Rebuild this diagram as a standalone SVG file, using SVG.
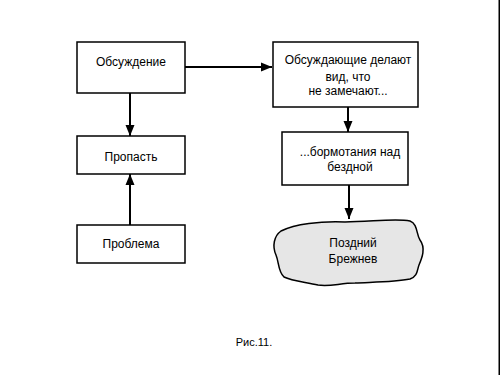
<svg xmlns="http://www.w3.org/2000/svg" width="500" height="375" viewBox="0 0 500 375">
<defs>
<marker id="ah" markerUnits="userSpaceOnUse" markerWidth="12" markerHeight="12" viewBox="0 0 12 12" refX="11" refY="6" orient="auto">
<path d="M0,1.5 L11,6 L0,10.5 Z" fill="#000"/>
</marker>
</defs>
<style>
.box{fill:#fff;stroke:#000;stroke-width:1.5}
.cloud{fill:#e6e6e6;stroke:#000;stroke-width:1.5}
.t{font-family:"Liberation Sans",Arial,sans-serif;font-size:12px;fill:#000;text-anchor:middle}
.c{stroke:#000;stroke-width:2;fill:none;marker-end:url(#ah)}
</style>
<rect width="500" height="375" fill="#fff"/>
<line x1="499.25" y1="0" x2="499.25" y2="375" stroke="#000" stroke-width="1.5"/>
<g id="connectors">
<line class="c" x1="130" y1="93" x2="130" y2="136"/>
<line class="c" x1="130" y1="225" x2="130" y2="174"/>
<line class="c" x1="185" y1="67" x2="272" y2="67"/>
<line class="c" x1="348" y1="107" x2="348" y2="132"/>
<line class="c" x1="349" y1="185" x2="349" y2="219"/>
</g>
<g id="obsuzhdenie">
<rect class="box" x="77" y="42" width="108" height="51"/>
<text class="t" x="131" y="66">Обсуждение</text>
</g>
<g id="propast">
<rect class="box" x="77" y="136" width="108" height="38"/>
<text class="t" x="131" y="161">Пропасть</text>
</g>
<g id="problema">
<rect class="box" x="77" y="225" width="108" height="38"/>
<text class="t" x="131" y="248">Проблема</text>
</g>
<g id="obsuzhdayushchie">
<rect class="box" x="273" y="42" width="145" height="65"/>
<text class="t" x="348" y="64">Обсуждающие делают</text>
<text class="t" x="348" y="81">вид, что</text>
<text class="t" x="348" y="95">не замечают...</text>
</g>
<g id="bormotaniya">
<rect class="box" x="282" y="132" width="126" height="53"/>
<text class="t" x="350" y="156">...бормотания над</text>
<text class="t" x="350" y="171">бездной</text>
</g>
<g id="brezhnev">
<path class="cloud" d="M281,231 C295,224 320,221 345,222 C370,222 395,218 410,221 C418,224 416,234 420,240 C426,248 422,258 419,265 C417,270 418,276 410,279 C395,282 375,282 355,283 C340,283 330,287 318,285 C305,282 292,281 284,277 C278,272 279,262 276,255 C272,246 274,236 281,231 Z"/>
<text class="t" x="353" y="247">Поздний</text>
<text class="t" x="353" y="263">Брежнев</text>
</g>
<text class="t" x="254" y="346" style="font-size:11px">Рис.11.</text>
</svg>
